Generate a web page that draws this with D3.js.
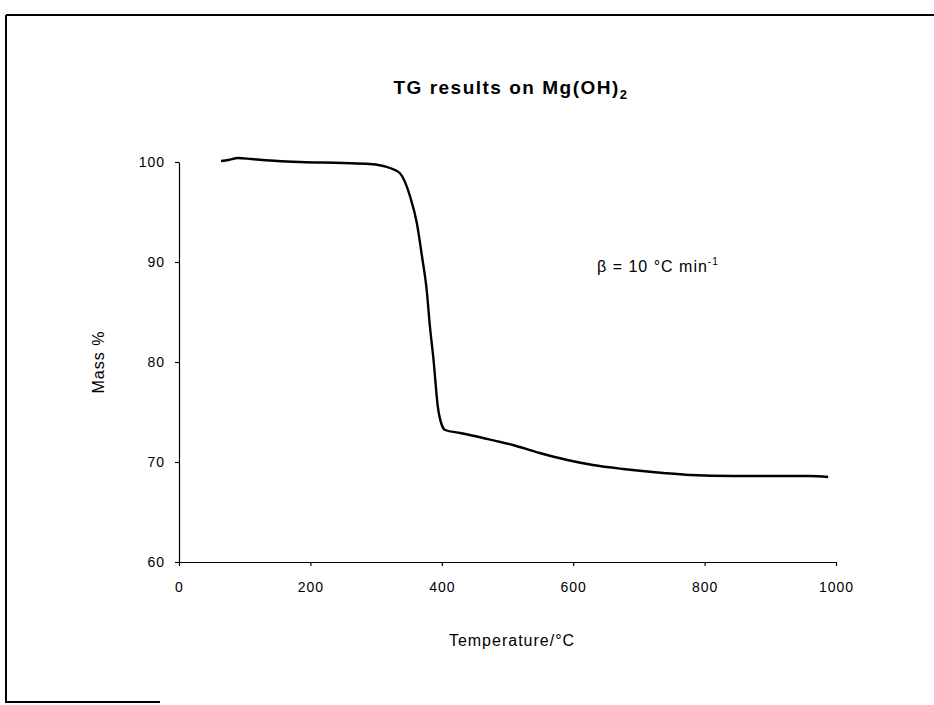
<!DOCTYPE html>
<html>
<head>
<meta charset="utf-8">
<script src="https://cdn.jsdelivr.net/npm/d3@7"></script>
<style>
body { margin: 0; background: white; }
text { font-family: "Liberation Sans", Arial, sans-serif; fill: black; }
</style>
</head>
<body>
<div class="chart"></div>
<script>
// TG curve
var temperature = [64, 75, 90, 110, 150, 185, 250, 290, 321, 336, 352, 362, 370, 377, 382, 387, 394, 400, 405, 428, 463, 508, 549, 591, 630, 676, 737, 778, 843, 900, 960, 988]
var mass = [100.1, 100.2, 100.4, 100.3, 100.1, 100.0, 99.9, 99.8, 99.4, 98.9, 96.5, 93.9, 90.5, 87.2, 83.5, 80.5, 75.5, 73.7, 73.2, 72.9, 72.4, 71.7, 70.9, 70.2, 69.7, 69.3, 68.9, 68.7, 68.6, 68.6, 68.6, 68.5]
var xTicks = [0, 200, 400, 600, 800, 1000]
var yTicks = [60, 70, 80, 90, 100]

var points = temperature.map(function(t, i) { return {t: t, m: mass[i]} })

var svg = d3.select(".chart")
    .append("svg")
    .attr("width", 934)
    .attr("height", 705)

// scanned page frame
svg.append("line").attr("x1", 6).attr("y1", 15).attr("x2", 934).attr("y2", 15)
    .attr("stroke", "black").attr("stroke-width", 2)
svg.append("line").attr("x1", 6).attr("y1", 15).attr("x2", 6).attr("y2", 703)
    .attr("stroke", "black").attr("stroke-width", 2)
svg.append("line").attr("x1", 6).attr("y1", 702).attr("x2", 160).attr("y2", 702)
    .attr("stroke", "black").attr("stroke-width", 2)

var x = d3.scaleLinear().domain([0, 1000]).range([179, 836])
var y = d3.scaleLinear().domain([60, 100]).range([562, 162])

var xAxis = svg.append("g")
    .attr("transform", "translate(0,562)")
    .call(d3.axisBottom(x).tickValues(xTicks).tickFormat(d3.format("d")).tickSize(4).tickSizeOuter(0))
xAxis.selectAll("text").attr("y", 20).attr("dy", "0.71em")

var yAxis = svg.append("g")
    .attr("transform", "translate(179,0)")
    .call(d3.axisLeft(y).tickValues(yTicks).tickSize(4).tickSizeOuter(0))
yAxis.selectAll("text").attr("x", -14)

svg.selectAll(".domain, .tick line").attr("stroke", "black").attr("stroke-width", 1.2)
svg.selectAll(".tick text")
    .style("font-family", "'Liberation Sans', Arial, sans-serif")
    .style("font-size", "14px")
    .style("letter-spacing", "1px")

var line = d3.line()
    .x(function(d) { return x(d.t) })
    .y(function(d) { return y(d.m) })
    .curve(d3.curveMonotoneX)

svg.append("path")
    .datum(points)
    .attr("d", line)
    .attr("fill", "none")
    .attr("stroke", "black")
    .attr("stroke-width", 2.4)

var title = svg.append("text")
    .attr("x", 511)
    .attr("y", 94)
    .attr("text-anchor", "middle")
    .style("font-size", "19px")
    .style("font-weight", "bold")
    .style("letter-spacing", "1.5px")
title.append("tspan").text("TG results on Mg(OH)")
title.append("tspan").attr("dy", 5).style("font-size", "13px").text("2")

svg.append("text")
    .attr("transform", "translate(104,362) rotate(-90)")
    .attr("text-anchor", "middle")
    .style("font-size", "16px")
    .style("letter-spacing", "1px")
    .text("Mass %")

svg.append("text")
    .attr("x", 512)
    .attr("y", 646)
    .attr("text-anchor", "middle")
    .style("font-size", "16px")
    .style("letter-spacing", "1px")
    .text("Temperature/°C")

var note = svg.append("text")
    .attr("x", 597)
    .attr("y", 272)
    .style("font-size", "16px")
    .style("letter-spacing", "1px")
note.append("tspan").text("β = 10 °C min")
note.append("tspan").attr("dy", -7).style("font-size", "10px").text("-1")
</script>
</body>
</html>
